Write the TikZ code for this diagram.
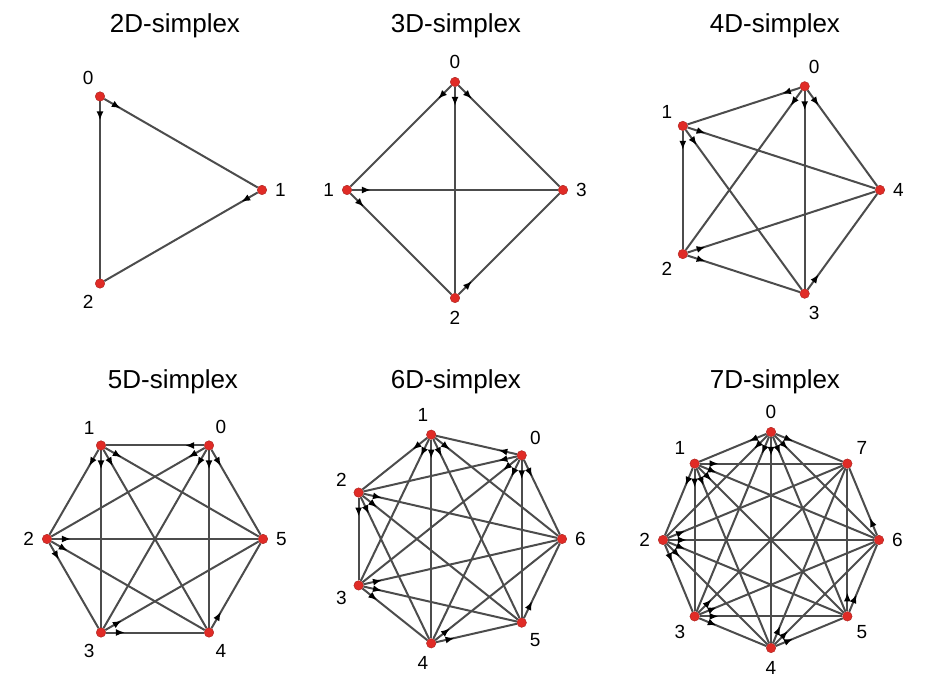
\documentclass[tikz,border=0pt]{standalone}
\usepackage{fontspec}
\setmainfont{Liberation Sans}
\usetikzlibrary{arrows.meta,decorations.markings,backgrounds}

\definecolor{dotred}{rgb}{0.88,0.17,0.15}
\definecolor{edgegray}{rgb}{0.30,0.30,0.30}

\tikzset{
    vertex/.style={circle, fill=dotred, draw=dotred!75!black, line width=0.4pt, inner sep=0pt, minimum size=9.5pt},
    vlabel/.style={font=\fontsize{19}{22}\selectfont, inner sep=0pt, label distance=8pt},
    simplextitle/.style={font=\fontsize{26}{30}\selectfont, anchor=base, inner sep=0pt},
    edge/.style={draw=edgegray, line width=2pt, postaction={decorate},
        decoration={markings, mark=at position 19pt with {\arrow[black]{Latex[length=9pt,width=7pt]}}}}
}

\begin{document}
\begin{tikzpicture}[x=1pt,y=1pt]
        \useasboundingbox (0,0) rectangle (940,700);

        \foreach \sdim/\n/\cx/\cy/\start/\turn/\r/\tx/\ty in {
            2/3/154/510/120/-120/108/175/667,
            3/4/455/510/90/90/108/456/667,
            4/5/771/510/72/72/109/775/667,
            5/6/155/161/60/60/108/173/311,
            6/7/455/161/51.4286/51.4286/107/456/311,
            7/8/771/160/90/45/108/775/311}{
            \node[simplextitle] (title\sdim) at (\tx,\ty) {\sdim D-simplex};
            \pgfmathtruncatemacro\last{\n-1}
            \foreach \k in {0,...,\last}{
                \pgfmathsetmacro\ang{\start+\turn*\k}
                \node[vertex, label={[vlabel]\ang:\k}] (s\sdim-\k) at ([shift={(\cx,\cy)}]\ang:\r) {};
            }
            \begin{scope}[on background layer]
                \foreach \i in {0,...,\last}{
                    \foreach \j in {0,...,\last}{
                        \ifnum\j>\i
                            \draw[edge] (s\sdim-\i) -- (s\sdim-\j);
                        \fi
                    }
                }
            \end{scope}
        }
    \end{tikzpicture}
\end{document}
